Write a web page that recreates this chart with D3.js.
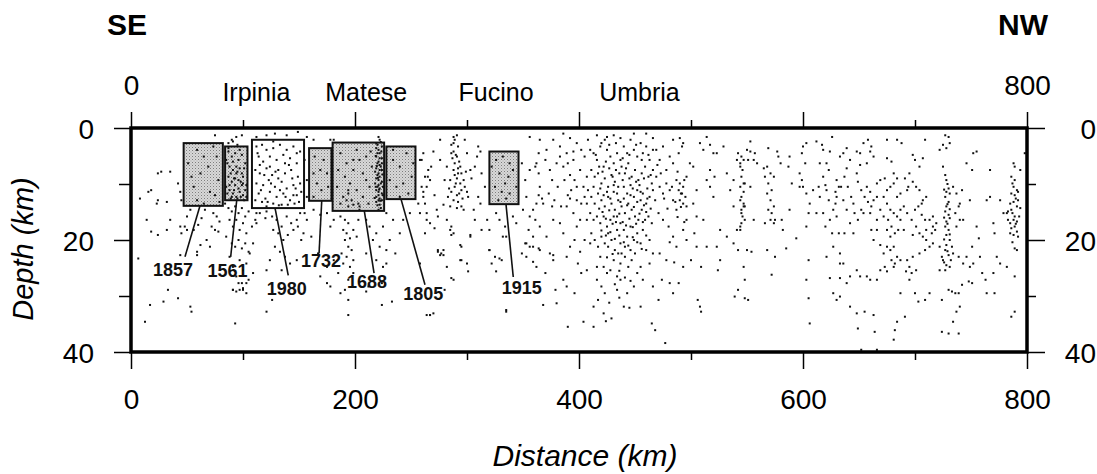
<!DOCTYPE html>
<html>
<head>
<meta charset="utf-8">
<title>Seismicity section SE-NW</title>
<script src="https://d3js.org/d3.v7.min.js"></script>
<style>
  body { margin: 0; background: #fff; }
  svg { display: block; font-family: "Liberation Sans", Arial, Helvetica, sans-serif; }
  .tick line { stroke: #000; stroke-width: 1.5px; }
  .tick text { font-size: 28px; fill: #000; }
  .quake { fill: #111; }
  .box { stroke: #111; stroke-width: 2px; }
  .leader { stroke: #111; stroke-width: 1.6px; }
  .yearlabel { font-size: 18px; font-weight: bold; fill: #111; }
</style>
</head>
<body>
<svg width="1097" height="474"></svg>
<script>
// axis ticks
const distMajor = [0, 200, 400, 600, 800];
const distMinor = [100, 300, 500, 700];
const depthMajor = [0, 20, 40];
const depthMinor = [10, 30];

// regions named above the section (km along profile)
const placeNames = ["Irpinia", "Matese", "Fucino", "Umbria"];
const placeKm = [112, 210, 326, 454];

// historical earthquake source boxes
const boxYears = ["1857", "1561", "1980", "1732", "1688", "1805", "1915"];
const boxKm0 = [47, 84, 108, 159, 180, 228, 320];
const boxKm1 = [82, 104, 154.5, 179, 226, 254, 346];
const boxTop = [2.7, 3.3, 2.1, 3.6, 2.6, 3.3, 4.2];
const boxBottom = [13.9, 12.9, 14.3, 13.0, 14.8, 12.7, 13.6];
const boxShaded = [true, true, false, true, true, true, true];
// leader lines from box to year label
const leaderKmTop = [61.6, 94.4, 128.6, 170.3, 208.3, 241.1, 334.8];
const leaderKmEnd = [48.2, 89, 140.4, 167.9, 217, 262.5, 341.3];
const leaderDepthEnd = [23.0, 23.0, 26.3, 22.4, 25.9, 28.0, 26.6];
const labelKm = [37.5, 86.2, 139, 169.6, 210.7, 261, 348.8];
const labelDepth = [26.4, 26.6, 29.8, 24.9, 28.6, 30.7, 29.6];

// hypocentres [distance km, depth km]
const quakesSouth = [
  [8,12.6],[15.5,11.4],[18,11.1],[24,8.1],[27,7.8],[35,7.8],[42,9.9],[44,11.4],[45,12.9],[32,13.2],[23,13.5],
  [14,16.4],[18,18.5],[24,19.1],[44,17.6],[45,18.8],[50,18.2],[35,16.4],[32,18.2],[6.5,23.3],[59,22.1],[62,20.9],
  [72,17.6],[75,18.2],[78,18.5],[67.5,20],[70.5,21.2],[50,15.8],[53,14.6],[75,1.3],[24,12.9],
  [59,3.9],[65,5.1],[69,6.9],[62,8.1],[56,10.5],[70.5,11.4],[75,12],[59,12.9],[78,9.3],[73.5,3.3],[51,6.3],[79,13.2],
  [65,13.5],[76.5,5.1],[54,8.7],
  [87,4.2],[90,5.1],[93,4.5],[96,5.7],[99,4.8],[102,6.3],[88,6.9],[91,7.5],[94,8.1],[97,7.2],[100,8.7],[87,8.7],
  [90,9.6],[93,10.2],[96,9.3],[99,10.2],[102,11.1],[85,10.5],[88,11.1],[91,11.7],[94,12.3],[97,11.4],[100,12],
  [103,12.3],[90,12.3],[93,9],[96,10.8],[99,8.1],[91,6],[97,3.9],[88,10.2],[94,6.9],[100,9.9],[85,5.7],
  [86,6.3],[89,8.1],[92,9],[95,7.8],[98,9.6],[101,7.2],[86,11.7],[89,12.6],[92,11.1],[95,12.6],[98,12.3],[101,12.9],
  [103,10.2],[87,3.6],[95,3],
  [91,2.4],[94,1.6],[99,1.3],[87,2.7],[90,2.1],
  [84,13.5],[87,14.3],[90,14.9],[93,14],[96,15.2],[99,14.3],[102,15.8],[105,14.9],[88,16.4],[91,17.6],[94,16.4],
  [97,18.2],[100,17],[103,18.8],[108,17.6],[85,19.4],[90,20.6],[93,21.2],[96,20],[99,21.5],[102,20.6],[105,22.1],
  [88,23],[91,24.8],[97,23.6],[100,25.4],[103,24.2],[94,26.5],[99,27.7],[105,27.1],[91,28.9],[100,28.9],[103,29.5],
  [109,25.9],[111,16.4],[112,15.2],[76.5,15.8],[79,16.7],[73.5,15.2],[66,14.6],[63,16.1],[60,17.3],[56,18.2],
  [48,17.6],[109,20.6],[106,22.4],
  [112,3.3],[117,3],[121,3.9],[127,3.6],[133,3],[139,3.9],[145,3.3],[151,4.2],[114,5.1],[118,6],[124,5.1],[130,5.7],
  [136,4.8],[142,5.4],[148,6.3],[111,7.5],[115,8.1],[121,7.2],[126,8.4],[131.5,7.5],[137.5,8.1],[143,7.5],[149,8.7],
  [112,9.9],[118,10.2],[123,9.3],[128.5,10.5],[134.5,9.6],[139,10.8],[145,10.2],[151,9.9],[114,11.7],[120,12.6],
  [124,11.4],[130,12.3],[136,11.7],[142,12.9],[148,12],[152,11.4],[117,13.2],[127,13.5],[134.5,13.7],[121,14],
  [140,13.7],[146,13.5],[111,12.9],[131.5,9],[137.5,6.3],[124,6.9],[115,6.6],[148,4.5],
  [113,4.5],[119,8.4],[125,9.9],[129,7.8],[133,11.1],[138,12.3],[144,9],[150,13.2],[116,11.1],[122,13.2],[132,13.8],
  [141,6.6],[147,10.8],[127,2.4],[145,12],
  [121,14.9],[126,15.8],[130,16.4],[134.5,17.6],[139,15.8],[143,17],[148,16.4],[151,15.2],[127,18.2],[131.5,18.8],
  [136,20],[140,19.1],[145,18.2],[149,17.6],[128.5,21.2],[133,22.1],[137.5,23],[142,24.2],[148,23.6],[124,23.6],
  [121,25.4],[134.5,25.4],[120,16.1],[115,15.2],[112,17],[155,15.2],[157,16.4],[154,18.8],[152,20],
  [112,1.6],[121,1.3],[128.5,1],[139,1.3],[149,0.7],
  [17,31.6],[29,31],[42,30.4],[53,31.9],[54,32.8],[33,28.9],[12.5,34.6],[44,22.7],[59,22.7],[93,34.9],[91,28.9],
  [94,29.2],[97,28.9],[100,28.6],[96,27.7],[103,27.7],[121,32.8],[126,30.7]
];

const quakesMatese = [
  [164,5.1],[169,7.5],[175,8.1],[166,9.9],[170,11.1],[163,12.3],[176,10.5],[172,5.7],[163,8.1],
  [157,1.6],[163,2.1],[155,5.7],[157,9.3],[157,12.3],[181,2.1],[178,2.1],
  [163,14.6],[169,15.5],[175,15.2],[181,16.4],[178,17.6],[187,15.8],[191,16.4],[194,17],[189.5,18.2],[192.5,18.8],
  [195.5,19.7],[191,20],[194,21.2],[197,21.8],[188,22.4],[192.5,23],[198.5,23.6],[189.5,24.2],[195.5,24.8],
  [198.5,25.9],[194,27.1],[191,28.9],[181,23.6],[175,24.8],[167,22.4],[161,19.4],[169,26.5],[178,28.3],[185,25.9],
  [187,29.5],[198.5,18.2],[201.5,19.4],[203,16.4],[204,14.6],
  [221,1.6],[222,2.1],[219,2.7],[224,3.3],[221,3.9],[222,4.5],[219,5.1],[224,5.4],[221,6],[222,6.6],[219,7.2],
  [224,7.5],[221,8.1],[222,8.7],[219,9],[224,9.6],[221,10.2],[222,10.8],[219,11.1],[224,11.7],[221,12],[222,12.6],
  [219,13.2],[222,13.7],[223,14.3],[220,6.3],[223,6.9],[221,9.3],[218,9.9],[225,10.5],[218,7.8],[220,4.5],
  [221,12.9],[223.5,4.2],[219,3.6],[222,5.4],[220,8.4],[223,9.9],[221,11.4],[219,12.3],[224,12.9],[220,3],
  [222,7.5],[220,10.5],[224,6.3],
  [218.5,5],[219.5,6.8],[220.5,8.9],[221.5,11],[222.5,13],[223,2.5],[218.5,10.5],[224.5,8.3],[220,13.8],[225,12],
  [217.5,12.5],[221,14.6],
  [187,4.5],[192.5,6.3],[191,8.7],[195.5,9.9],[194,11.1],[189.5,12.3],[197,12.9],[194,14],[187,13.5],[184,10.5],
  [198.5,7.5],[204,5.7],[201.5,3.9],[207,8.1],[210,9.3],[213,10.5],[207,12.3],[212,13.5],[204,14],[201.5,11.1],
  [198.5,5.7],[185,7.5],[210,5.1],[215,6.9],[214,4.2],[194,11.7],[192.5,12.9],[198.5,13.7],[203,13.5],
  [234,5.7],[240,6.9],[246,4.5],[250.6,8.7],[237,10.5],[243,9.9],[247.6,11.7],[231,9.3],[252,6.3],[240,12.3],[234,3.9],
  [228,15.2],[234,16.4],[240,18.8],[231,20],[236,22.4],[228,24.2],[243,16.4],[249,15.2],[256.5,13.5],[259.5,10.5],
  [262.5,8.7],[265.4,7.5],[261,12.3],[258,15.2],[264,16.4],[262.5,18.8],[258,5.7],[261,4.5],[267,9.3],
  [210,16.4],[213,17.6],[219,18.8],[225,17.6],[216,20],[222,21.2],[228,21.8],[210,22.4],[219,23.6],[225,24.8],
  [215,26.5],[224,27.7],[212,28.3],
  [175,27.7],[194,30.7],[194,33.4],[210,29.2],[224,31.6],[233,31],[264,33.4],[267,33.4]
];

const quakesFucino = [
  [264,10.5],[261,11.4],[270,4.2],[276,2.1],[268,6.9],[262.5,13.5],[273,14.6],[279,13.7],[267,17],[271,17.9],
  [282,16.4],[285,18.2],[286,19.1],[274,15.8],[264,15.2],[277,22.4],[274,22.1],[279,22.7],[267,33.4],[270,33.1],
  [280,28.9],[258,24.2],[283,12.3],[280,9.3],[276,5.7],[265,8.7],[259.5,5.7],[271,12],[282,6.9],[286,4.5],[288,2.7],
  [288,1.6],[291,1.3],[289,2.1],[286,3],[292,3.3],[288,4.2],[291,5.1],[289,6.3],[294,6.9],[288,7.5],[292,8.1],
  [291,9],[285,9.3],[294,9.9],[289,10.5],[295,11.1],[286,11.4],[291,12],[297,9.3],[298,10.5],[300,11.4],[295,14],
  [297,14.6],[291,14.3],[286,17.6],[288,18.8],[295,21.2],[303,19.4],[294,23.6],[301,25.6],[282,24.8],[285,14],
  [300,4.5],[298,2.1],[303,7.5],[304,9],[301,12.3],
  [290,4.8],[293,6],[287,5.4],[292,7.2],[289,8.4],[295,8.1],[290,9.9],[293,11.7],[288,12.9],[296,12.6],[292,13.2],
  [299,7.8],[284,10.8],
  [309,5.1],[310,3.3],[312,4.2],[307,6.9],[313,8.1],[316,10.5],[310,12.3],[306,14.6],[318,16.4],[313,18.2],
  [320,21.8],[322,24.2],[307,16.4],[312,13.5],
  [326,5.7],[332,5.1],[338,6.3],[329,8.1],[337,8.7],[334,9.9],[325,10.5],[331,11.4],[338,11.7],[335,12.6],[328,12.9],
  [341,7.5],[322,6.9],[344,10.5],
  [329,16.4],[334,17.6],[326,15.2],[335,19.4],[325,23],[331,23.6],[320,18.2],[341,15.8],[344,17],[335,32.8],
  [349,6.3],[352,9.3],[353,12.3],[350,14.6],[356,7.5],[361,6.9],[364,8.1],[362,6.3],[365,10.5],[364,12],[367,12.6],
  [362,13.5],[359,14.6],[356,15.8],[361,16.4],[365,17.6],[355,18.2],[359,19.4],[352,20.6],[356,21.2],[364,21.5],
  [349,22.4],[362,24.8],[370,25.9],[353,23],[371,3.9],[370,5.7],[374,7.5],[376,9.3],[373,11.7],[368,13.5],[376,14],
  [377,16.4],[371,19.4],[374,22.4],[377,23.6],[365,2.1],[356,1.6],[364,4.5],
  [276,22.7],[279,21.8],[274,21.8],[294,20.9],[303,19.1],[295,23.6],[300,24.2],[286,26.8],[288,27.1],[335,32.5],
  [368,31.6],[379,28.9],[377,22.7],[359,23.9],[326,25.6],[320,21.8],[329,23.3],[332,19.4],[353,20.6],[359,21.2],
  [365,21.8]
];

const quakesUmbria = [
  [380,6.3],[383,5.1],[386,6.9],[389,4.5],[390,6.3],[392,8.4],[395,5.7],[396,9.3],[398,10.5],[401,7.5],[404,10.5],
  [407,8.7],[387,9.3],[393,11.1],[390,12],[392,12.6],[398,12.9],[402,13.5],[405,12.3],[389,14],[395,15.2],[401,16.4],
  [383,17],[386,18.8],[398,17.6],[396,20],[392,21.2],[401,22.1],[405,20],[389,23],[399,24.2],[402,25.9],[386,27.1],
  [389,28.3],[396,29.5],[380,31.3],[404,34.6],[390,35.5],[386,1],[392,1.8],[398,2.7],[383,3.3],[377,2.1],[402,3.9],
  [405,5.1],[395,4.2],[381,10.5],[378,12.9],[384,14],[407,13.5],[407,16.4],
  [410,3.9],[413,4.5],[416,5.7],[419,3.3],[423,2.1],[425,3.9],[428,5.1],[431,6.3],[434,4.5],[437,5.7],[411,7.5],
  [414,8.7],[417,8.1],[420,9.9],[423,9],[426,10.5],[429,8.4],[432,9.6],[435,10.5],[408,11.1],[411,12.3],[414,13.5],
  [417,11.7],[420,12.9],[423,14],[426,12.3],[429,13.5],[432,14.6],[435,12.9],[410,15.2],[413,16.4],[416,15.8],
  [419,17],[422,15.8],[425,17.6],[428,16.4],[431,15.8],[434,18.2],[437,17],[411,18.8],[414,20],[417,21.2],[420,19.4],
  [423,20.6],[426,21.2],[429,20],[432,21.8],[435,22.4],[437,20.6],[419,23],[422,24.8],[425,25.9],[428,25.4],
  [431,23.6],[434,26.5],[416,27.1],[420,28.3],[423,29.5],[417,30.7],[413,31.9],[422,33.1],[429,34],[434,28.9],
  [437,27.1],[413,35.5],[431,1.3],[425,1.6],[416,1.3],[408,2.1],[437,1.8],[413,10.5],[422,6.9],[431,11.4],
  [434,15.8],[426,18.8],[410,20.6],[437,24.2],[416,24.8],[407,25.4],
  [418,6.9],[421,7.8],[424,6],[427,7.2],[430,8.7],[433,7.5],[436,8.1],[439,9.3],[442,7.2],[445,9],[448,10.8],
  [451,9.6],[454,10.2],[458,9],[461,10.8],[464,8.4],[419,10.8],[422,12],[425,11.4],[428,12.6],[431,10.2],[434,11.7],
  [437,13.2],[440,12.6],[443,13.8],[446,12],[449,14.1],[452,13.2],[455,11.4],[458,13.8],[461,12.6],[464,14.4],
  [418,14.4],[421,15],[424,16.2],[427,14.7],[430,17.1],[433,16.8],[436,15.3],[439,16.8],[442,17.4],[445,16.2],
  [448,17.7],[451,17.1],[454,15.3],[457,16.8],[460,15],[420,18.3],[424,19.2],[428,18.6],[432,19.8],[436,19.2],
  [440,20.4],[444,21],[448,19.5],[452,20.4],[456,21.6],[460,19.2],[415,4.8],[420,2.7],[427,3],[433,2.7],[439,5.4],
  [445,4.8],[451,3],[456,5.7],[462,4.8],[425,23.1],[430,22.5],[436,25.5],[441,26.7],[446,27.3],[432,27.9],
  [427,31.2],[436,30.3],[445,32.1],[424,34.5],
  [440,3.3],[443,4.5],[446,2.1],[449,3.9],[452,5.1],[455,2.7],[457,4.5],[460,3.3],[463,5.7],[466,3.9],[438,6.9],
  [441,8.1],[444,6.3],[447,8.7],[450,7.5],[453,9.3],[456,8.1],[459,6.9],[462,8.7],[465,9.9],[440,10.5],[443,11.7],
  [446,10.2],[449,12.3],[452,11.1],[455,12.9],[457,11.7],[460,13.5],[463,12.3],[466,11.1],[438,14],[441,15.2],
  [444,13.5],[447,14.6],[450,15.8],[453,16.4],[456,14.6],[459,16.4],[462,15.8],[465,17],[440,18.2],[443,19.4],
  [446,17.6],[449,20],[452,18.8],[455,20.6],[457,18.2],[460,21.8],[463,20],[466,22.4],[438,22.4],[441,23],
  [444,24.8],[447,23.6],[452,25.9],[455,24.8],[457,27.1],[463,24.2],[449,28.3],[443,29.5],[455,31.9],[466,28.3],
  [440,31.9],[465,34.9],[468,36.1],[449,1],[460,1],[466,1.8],[441,21.2],[446,21.8],[450,22.4],
  [469,3.9],[472,5.7],[475,3.3],[478,7.5],[481,5.1],[484,6.3],[469,8.7],[472,10.5],[475,11.7],[478,9.9],[481,11.1],
  [484,12.9],[487,9.3],[490,9.9],[493,10.5],[489,11.1],[492,11.7],[495,12.3],[490,12.9],[493,13.5],[496,14],
  [487,14.6],[490,1.8],[493,2.7],[492,3.3],[489,4.5],[471,15.2],[475,16.4],[480,17.6],[484,19.4],[487,21.2],
  [493,18.2],[496,20],[472,22.4],[478,23.6],[493,24.8],[496,16.4],[474,27.1],[484,29.5],[481,27.7],[471,30.7],
  [477,38.4],[489,27.7],[496,8.7],[466,7.5],[468,12.9],[484,2.1],
  [470,6.6],[473,8.1],[476,12.6],[479,14.4],[483,10.5],[486,13.2],[488,7.8],[491,11.7],[494,9.3],[491,14.1],
  [488,15.9],[494,16.8],[481,20.4],[485,24]
];

const quakesNorth = [
  [499,6.3],[502,6.9],[505,11.1],[508,2.7],[511,3.9],[514,9.3],[517,7.5],[520,4.5],[521,8.7],[523,4.5],[502,13.5],
  [505,15.8],[503,18.8],[500,23.6],[505,21.2],[511,16.4],[514,21.2],[509,24.8],[506,30.7],[508,31.9],[509,32.8],
  [517,10.5],[520,12.3],[523,21.2],[524,25.4],[526,18.2],[532,8.1],[535,11.1],[538,14],[541,5.7],[542,4.5],
  [541,18.2],[538,20.6],[542,21.8],[547,24.8],[548,27.1],[542,28.9],[539,30.1],[551,30.7],[532,19.4],[529,3.3],
  [526,23.6],[553,10.5],[551,5.7],[550,3.9],[514,1.6],[517,3],[538,9.3],[548,9.9],
  [545,5.1],[544,6.3],[546,7.5],[545,8.7],[547,9.9],[544,10.5],[545,12.3],[547,13.5],[545,14.6],[546,15.8],
  [545,17],[544,18.2],[548,14],[547,11.4],[547,5.7],[544,6.9],[544,12.9],[547,14],[545,15.2],[548,16.4],[544,17.6],
  [553,4.2],[556,5.7],[559,6.3],[550,21.8],[554,22.1],[548,30.4],[556,16.4],[553,2.4],[557,4.5],[568,6.9],[571,8.1],
  [574,8.7],[569,9.9],[572,11.1],[568,11.7],[571,12.9],[574,14],[569,14.6],[572,15.2],[571,16.4],[574,17],[566,17],
  [568,21.8],[572,26.2],[575,23],[566,8.7],[565,7.2],[577,4.2],[578,5.1],[580,6.3],[575,16.4],[581,16.4],[582,18.2],
  [569,3.6],
  [588,5.1],[587,6.9],[590,9.9],[588,14.6],[594,19.7],[585,21.5],[599,4.5],[600,3.3],[603,2.7],[602,6.3],[597,8.1],
  [599,9.3],[600,10.5],[597,10.5],[603,11.7],[605,15.2],[606,13.5],[603,17.6],[605,23.6],[603,27.1],[605,30.4],
  [606,34.9],[612,2.4],[617,3],[618,3.9],[624,4.2],[626,1.6],[621,6.3],[615,6.3],[623,7.5],[618,8.7],[614,10.5],
  [620,10.2],[609,11.1],[615,12.3],[621,11.1],[623,12.9],[618,15.2],[612,15.2],[620,17.6],[624,16.4],[629,11.4],
  [632,10.5],[630,12.3],[629,13.5],[627,14.6],[630,15.8],[626,18.8],[632,18.8],[630,9.3],[633,5.1],[627,21.2],
  [621,23],[624,26.8],[627,29.5],[630,30.7],[633,24.2],
  [636,4.5],[639,3.6],[642,5.7],[639,7.2],[637,8.7],[634,10.5],[640,10.5],[643,12.3],[636,12.9],[639,14.6],
  [645,13.5],[646,15.2],[642,17],[637,18.8],[645,18.8],[648,4.2],[651,4.5],[657,6.3],[660,4.2],[663,5.1],[661,3.3],
  [658,2.1],[654,2.7],[649,9.6],[652,11.1],[655,12.3],[657,10.5],[660,11.4],[658,13.2],[661,14],[654,15.2],
  [649,16.4],[652,14.6],[660,15.2],[663,12.9],[666,9.9],[669,9.3],[672,12.3],[675,11.1],[678,10.5],[681,9.9],
  [684,12.3],[687,11.7],[690,14],[675,13.5],[678,14.6],[681,15.2],[672,15.8],[676,16.4],[679,17.6],[675,18.2],
  [682,18.8],[685,18.2],[678,19.4],[681,21.2],[675,21.2],[672,22.4],[669,20.9],[663,20],[666,18.2],[678,21.8],
  [687,16.4],[690,18.2],[684,15.8],[687,14.6],[693,15.2],[633,22.4],[636,24.2],[642,26.5],[639,27.7],[648,25.4],
  [651,26.5],[657,26.5],[660,27.1],[666,27.1],[669,25.4],[673,24.8],[675,25.6],[681,24.8],[682,24.2],[679,23.6],
  [684,23],[687,23.6],[693,23.6],[633,30.1],[642,31.9],[648,33.1],[655,32.8],[663,33.4],[649,35.8],[664,36.4],
  [682,36.1],[681,37.8],[684,34.6],[691,33.7],[687,29.5],[633,26.8],[651,6.6],[648,8.1],[675,5.4],[679,6],[681,8.1],
  [684,9],[684,2.1],[688,2.7],[675,2.1],[673,9],[691,9],[693,11.1],[666,12.3],[669,14.6],[666,16.4],[661,18.2],
  [652,39.6],[666,39.6],
  [725,6.9],[727,8.4],[728,9.3],[730,10.8],[728,11.4],[731,11.7],[727,12.3],[730,13.2],[728,14],[727,14.9],
  [730,15.5],[731,16.1],[728,16.7],[727,17.6],[730,18.2],[728,19.1],[731,20],[728,20.9],[727,21.8],[730,22.7],
  [725,23.6],[728,24.5],[727,25.4],[722,25.4],[731,24.8],[724,23],[734,22.4],[722,21.2],[733,21.2],
  [729,10],[726,11],[729,13.6],[731,14.5],[726,16],[729,17.1],[731,19],[726,19.9],[729,22],[732,23.6],[726,24],
  [698,4.8],[700,5.7],[704,6.9],[707,5.4],[709,2.1],[722,3.9],[725,3],[728,3.6],[731,2.7],[730,1.6],[727,1.3],
  [695,8.1],[698,9.6],[694,10.5],[701,10.5],[704,11.1],[706,13.5],[707,12.9],[710,12.3],[703,14],[700,14.6],
  [706,15.5],[709,16.4],[697,16.4],[701,17.6],[704,18.8],[698,19.1],[707,19.4],[710,18.2],[713,16.4],[716,15.8],
  [719,17],[716,17.6],[715,18.8],[718,18.2],[710,20],[713,21.2],[716,20.6],[709,21.8],[704,22.4],[698,23],
  [695,24.8],[701,25.4],[697,25.9],[692,25.6],[695,27.1],[700,29.5],[703,31],[709,30.7],[713,29.5],[724,30.7],
  [730,28.9],[733,29.2],[736,29.5],[739,29.5],[742,28],[740,31.9],[737,32.8],[734,34.6],[724,36.4],[730,36.7],
  [739,36.7],[734,10.5],[737,11.7],[740,13.5],[742,11.1],[739,14],[736,15.2],[740,16.4],[743,16.4],[737,17.6],
  [739,23],[743,24.2],[746,23],[751,21.2],[749,24.8],[752,24.2],[748,27.4],[751,27.7],[755,17.6],[757,19.7],
  [758,23],[760,25.9],[763,27.1],[764,29.5],[770,17],[771,18.8],[773,23],[776,24.2],[749,12.9],[752,4.5],[755,4.2],
  [746,6.3],[751,7.5],[767,7.5],[764,12.9],[767,12.3],[770,25.9],[771,29.5],
  [788,6.3],[789,6.9],[786,8.7],[789,9.3],[788,10.5],[791,11.1],[786,11.7],[789,12],[792,12.9],[788,13.2],
  [785,13.5],[791,14],[794,14.3],[786,14.6],[783,14.9],[782,15.2],[789,15.8],[788,16.4],[785,17],[791,16.7],
  [789,17.6],[786,17.9],[791,18.5],[788,19.1],[792,19.4],[789,21.5],[791,21.8],[776,12.9],[779,15.2],[782,24.8],
  [789,26.5],[786,33.7],[789,32.8],[794,7.5],[798,4.5],[783,16.4],
  [787,9.9],[790,12.6],[787,15.2],[790,17.1],[793,15.8],[785,18.8],[792,11.4],[787,20.4]
];

const svg = d3.select("svg");
const x = d3.scaleLinear().domain([0, 800]).range([131, 1027]);
const y = d3.scaleLinear().domain([0, 40]).range([128, 352]);

// stipple used inside the shaded source boxes
const defs = svg.append("defs");
const pat = defs.append("pattern")
    .attr("id", "stipple")
    .attr("width", 3).attr("height", 3)
    .attr("patternUnits", "userSpaceOnUse");
pat.append("rect").attr("width", 3).attr("height", 3).attr("fill", "#d8d8d8");
pat.append("rect").attr("width", 1).attr("height", 1).attr("fill", "#7d7d7d");
pat.append("rect").attr("x", 1.5).attr("y", 1.5).attr("width", 1).attr("height", 1).attr("fill", "#a5a5a5");

// boxes
const boxes = boxYears.map((yr, i) => ({
    year: yr, k0: boxKm0[i], k1: boxKm1[i], top: boxTop[i], bottom: boxBottom[i], shaded: boxShaded[i],
    lk0: leaderKmTop[i], lk1: leaderKmEnd[i], ld1: leaderDepthEnd[i], tk: labelKm[i], td: labelDepth[i]
}));

svg.append("g").selectAll("rect")
    .data(boxes)
    .enter().append("rect")
    .attr("class", "box")
    .attr("x", d => x(d.k0))
    .attr("y", d => y(d.top))
    .attr("width", d => x(d.k1) - x(d.k0))
    .attr("height", d => y(d.bottom) - y(d.top))
    .attr("fill", d => d.shaded ? "url(#stipple)" : "#fff");

// hypocentres
const quakes = [].concat(quakesSouth, quakesMatese, quakesFucino, quakesUmbria, quakesNorth);
svg.append("g").selectAll("rect")
    .data(quakes)
    .enter().append("rect")
    .attr("class", "quake")
    .attr("x", d => x(d[0]) - 1)
    .attr("y", d => y(d[1]) - 1)
    .attr("width", 2)
    .attr("height", 2);

// leaders and year labels
svg.append("g").selectAll("line")
    .data(boxes)
    .enter().append("line")
    .attr("class", "leader")
    .attr("x1", d => x(d.lk0)).attr("y1", d => y(d.bottom))
    .attr("x2", d => x(d.lk1)).attr("y2", d => y(d.ld1));

svg.append("g").selectAll("text")
    .data(boxes)
    .enter().append("text")
    .attr("class", "yearlabel")
    .attr("x", d => x(d.tk))
    .attr("y", d => y(d.td))
    .attr("text-anchor", "middle")
    .text(d => d.year);

// axes
function clean(g) {
    g.select(".domain").remove();
}
svg.append("g").attr("transform", `translate(0,${y(40)})`)
    .call(d3.axisBottom(x).tickValues(distMajor).tickSize(17).tickPadding(20))
    .call(clean);
svg.append("g").attr("transform", `translate(0,${y(40)})`)
    .call(d3.axisBottom(x).tickValues(distMinor).tickSize(8).tickFormat(""))
    .call(clean);
svg.append("g").attr("transform", `translate(0,${y(0)})`)
    .call(d3.axisTop(x).tickValues(distMajor).tickSize(16).tickPadding(17)
        .tickFormat(d => (d === 0 || d === 800) ? d : ""))
    .call(clean);
svg.append("g").attr("transform", `translate(0,${y(0)})`)
    .call(d3.axisTop(x).tickValues(distMinor).tickSize(8).tickFormat(""))
    .call(clean);
svg.append("g").attr("transform", `translate(${x(0)},0)`)
    .call(d3.axisLeft(y).tickValues(depthMajor).tickSize(17).tickPadding(20))
    .call(clean)
    .selectAll("text").attr("dy", "0.37em");
svg.append("g").attr("transform", `translate(${x(0)},0)`)
    .call(d3.axisLeft(y).tickValues(depthMinor).tickSize(12).tickFormat(""))
    .call(clean);
svg.append("g").attr("transform", `translate(${x(800)},0)`)
    .call(d3.axisRight(y).tickValues(depthMajor).tickSize(18))
    .call(clean)
    .selectAll("text").attr("x", 69).attr("text-anchor", "end").attr("dy", "0.37em");
svg.append("g").attr("transform", `translate(${x(800)},0)`)
    .call(d3.axisRight(y).tickValues(depthMinor).tickSize(9).tickFormat(""))
    .call(clean);

// frame
svg.append("rect")
    .attr("x", x(0)).attr("y", y(0))
    .attr("width", x(800) - x(0)).attr("height", y(40) - y(0))
    .attr("fill", "none").attr("stroke", "#000").attr("stroke-width", 3.5);

// place names
svg.append("g").selectAll("text")
    .data(placeNames)
    .enter().append("text")
    .attr("x", (d, i) => x(placeKm[i]))
    .attr("y", 101)
    .attr("text-anchor", "middle")
    .style("font-size", "25px")
    .text(d => d);

// ends of the profile
svg.append("text").attr("x", x(0) - 4).attr("y", 35).attr("text-anchor", "middle")
    .style("font-size", "30px").style("font-weight", "bold").text("SE");
svg.append("text").attr("x", x(800) - 4).attr("y", 35).attr("text-anchor", "middle")
    .style("font-size", "30px").style("font-weight", "bold").text("NW");

// axis titles
svg.append("text").attr("x", 585).attr("y", 466).attr("text-anchor", "middle")
    .style("font-size", "30px").style("font-style", "italic").text("Distance (km)");
svg.append("text").attr("transform", "translate(33,249) rotate(-90)").attr("text-anchor", "middle")
    .style("font-size", "29px").style("font-style", "italic").text("Depth (km)");
</script>
</body>
</html>
